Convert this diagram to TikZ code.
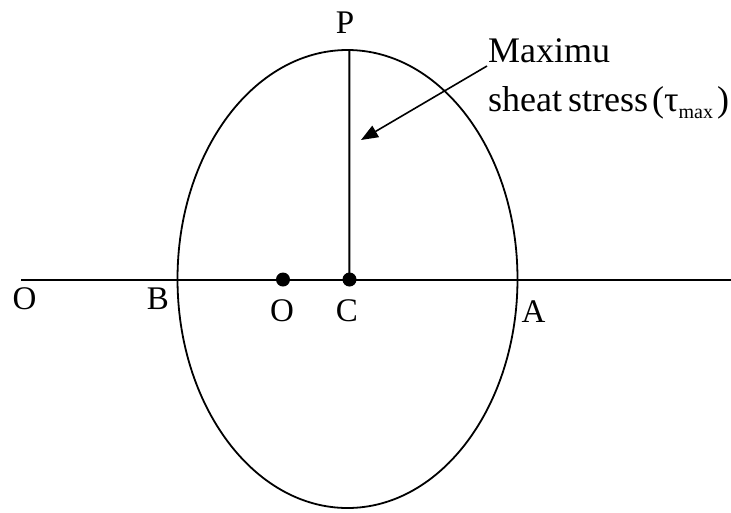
\documentclass[tikz,border=0pt]{standalone}
\usepackage{fontspec}
\setmainfont{Liberation Serif}
\usetikzlibrary{arrows.meta}
\begin{document}
\begin{tikzpicture}[x=1pt,y=-1pt,
  lbl/.style={inner sep=0pt,font=\fontsize{33}{36}\selectfont},
  txt/.style={inner sep=0pt,anchor=base west,font=\fontsize{36}{38}\selectfont},
  dotpt/.style={circle,fill=black,inner sep=0pt,minimum size=14pt}]
\useasboundingbox (0,0) rectangle (731,512);
\draw[line width=1.8pt] (347.5,279) ellipse [x radius=170,y radius=229];
\coordinate (L) at (21,279.5);
\coordinate (R) at (731,279.5);
\coordinate (T) at (349.3,50);
\draw[line width=2pt] (L) -- (R);
\node[dotpt] (Od) at (283,279.5) {};
\node[dotpt] (Cd) at (349.5,279.5) {};
\draw[line width=2pt] (Cd.center) -- (T);
\node[lbl] (P) at (345,23) {P};
\node[lbl] (O1) at (24.5,299) {O};
\node[lbl] (B) at (158,299) {B};
\node[lbl] (O2) at (282,311) {O};
\node[lbl] (C) at (347,311) {C};
\node[lbl] (A) at (533.5,312) {A};
\node[txt] (M) at (488,62) {Maximu};
\node[txt] (S) at (488,111) {sheat\,stress\hspace{4pt}(τ\raisebox{-7pt}{\fontsize{20}{21}\selectfont max}\hspace{4pt})};
\coordinate (as) at (487,66);
\coordinate (ae) at (361,140);
\draw[line width=1.6pt,-{Triangle[length=17pt,width=13pt]}] (as) -- (ae);
\end{tikzpicture}
\end{document}
